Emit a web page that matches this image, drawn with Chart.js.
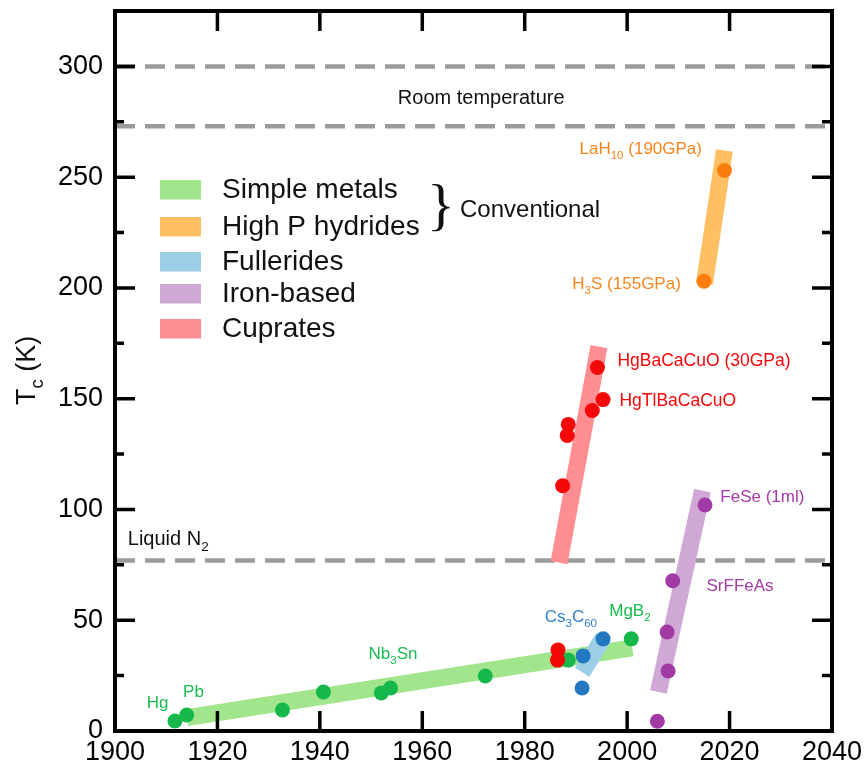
<!DOCTYPE html>
<html>
<head>
<meta charset="utf-8">
<script src="https://cdn.jsdelivr.net/npm/chart.js@4.4.0/dist/chart.umd.min.js"></script>
<style>
  html, body { margin: 0; padding: 0; background: #fff; }
  #wrap { width: 866px; height: 767px; position: relative; }
</style>
</head>
<body>
<div id="wrap"><canvas id="tcChart"></canvas></div>
<script>
// Superconductors: year of discovery vs critical temperature Tc
const xTicks = [1900, 1920, 1940, 1960, 1980, 2000, 2020, 2040];
const yTicks = [0, 50, 100, 150, 200, 250, 300];
const yMinorTicks = [25, 75, 125, 175, 225, 275];

const familyNames = ['Simple metals', 'High P hydrides', 'Fullerides', 'Iron-based', 'Cuprates'];

const metalYears = [1911.7, 1914, 1932.7, 1940.7, 1952, 1953.8, 1972.3, 1988.5, 2000.8];
const metalTc = [4.5, 7.2, 9.5, 17.6, 17.2, 19.4, 24.8, 32, 41.6];

const hydrideYears = [2015, 2019];
const hydrideTc = [203, 253];

const fullerideYears = [1991.2, 1991.4, 1995.3];
const fullerideTc = [19.4, 33.9, 41.6];

const ironYears = [2005.9, 2008, 2007.8, 2008.9, 2015.2];
const ironTc = [4.4, 27.1, 44.7, 67.8, 102];

const cuprateYears = [1986.5, 1986.4, 1987.4, 1988.3, 1988.5, 1993.2, 1995.3, 1994.2];
const cuprateTc = [36.6, 32, 110.7, 133.4, 138.4, 144.7, 149.6, 164.1];

// trend bands, start and end of each
const metalTrendYears = [1914, 2001];
const metalTrendTc = [6, 37.5];
const hydrideTrendYears = [2015.1, 2019];
const hydrideTrendTc = [202, 262];
const fullerideTrendYears = [1991.2, 1995.3];
const fullerideTrendTc = [26.5, 42];
const ironTrendYears = [2006.1, 2014.7];
const ironTrendTc = [17.6, 108.5];
const cuprateTrendYears = [1986.7, 1994.5];
const cuprateTrendTc = [76, 173.5];

// room temperature band and liquid nitrogen
const referenceLevels = [300, 273, 77];

const pointColors = ['#17b84b', '#fb7d0b', '#2379c0', '#a23aa6', '#f50808'];
const bandColors = ['#a1e68c', '#ffbf63', '#9ccfe5', '#d0a8d6', '#ff8e92'];
const labelColors = ['#19bb4f', '#fb8419', '#2f7fc8', '#a23aa6', '#f50808'];

const toPoints = (xs, ys) => xs.map((v, i) => ({ x: v, y: ys[i] }));

function bandDataset(xs, ys, color, order) {
    return {
        type: 'line',
        data: toPoints(xs, ys),
        borderColor: color,
        borderWidth: 17,
        borderCapStyle: 'butt',
        pointRadius: 0,
        fill: false,
        order: order
    };
}

function pointDataset(label, xs, ys, color, order) {
    return {
        type: 'scatter',
        label: label,
        data: toPoints(xs, ys),
        backgroundColor: color,
        borderWidth: 0,
        pointRadius: 7.5,
        pointHoverRadius: 7.5,
        order: order
    };
}

const levelDatasets = referenceLevels.map(level => ({
    type: 'line',
    data: [{ x: xTicks[0], y: level }, { x: xTicks[xTicks.length - 1], y: level }],
    borderColor: '#9b9b9b',
    borderWidth: 4.5,
    borderDash: [20, 10],
    pointRadius: 0,
    order: 20
}));

// text drawn on the plot, with subscripts
const annotationSpecs = [
    { parts: [['Room temperature']], x: 1971.5, y: 283, color: '#111', size: 20, align: 'center' },
    { parts: [['Liquid N'], ['2', true]], x: 1902.5, y: 84, color: '#111', size: 20 },
    { parts: [['Hg']], x: 1906.2, y: 10.4, color: labelColors[0], size: 17 },
    { parts: [['Pb']], x: 1913.3, y: 15.4, color: labelColors[0], size: 17 },
    { parts: [['Nb'], ['3', true], ['Sn']], x: 1949.5, y: 32.5, color: labelColors[0], size: 17 },
    { parts: [['MgB'], ['2', true]], x: 1996.5, y: 52, color: labelColors[0], size: 17 },
    { parts: [['Cs'], ['3', true], ['C'], ['60', true]], x: 1983.9, y: 49.3, color: labelColors[2], size: 17 },
    { parts: [['HgBaCaCuO (30GPa)']], x: 1998.1, y: 164.6, color: labelColors[4], size: 17.5 },
    { parts: [['HgTlBaCaCuO']], x: 1998.5, y: 146.9, color: labelColors[4], size: 17.5 },
    { parts: [['LaH'], ['10', true], [' (190GPa)']], x: 1990.7, y: 260.4, color: labelColors[1], size: 17 },
    { parts: [['H'], ['3', true], ['S (155GPa)']], x: 1989.3, y: 199.4, color: labelColors[1], size: 17 },
    { parts: [['FeSe (1ml)']], x: 2018.2, y: 103.5, color: labelColors[3], size: 17 },
    { parts: [['SrFFeAs']], x: 2015.5, y: 63.3, color: labelColors[3], size: 17 }
];

const FONT = '"Liberation Sans", Arial, Helvetica, sans-serif';

function drawRich(ctx, parts, x, y, size, color, align) {
    const subSize = size * 0.68;
    let total = 0;
    parts.forEach(p => {
        ctx.font = (p[1] ? subSize : size) + 'px ' + FONT;
        total += ctx.measureText(p[0]).width;
    });
    let cx = align === 'center' ? x - total / 2 : x;
    ctx.fillStyle = color;
    ctx.textAlign = 'left';
    ctx.textBaseline = 'alphabetic';
    parts.forEach(p => {
        const sub = !!p[1];
        ctx.font = (sub ? subSize : size) + 'px ' + FONT;
        ctx.fillText(p[0], cx, sub ? y + size * 0.3 : y);
        cx += ctx.measureText(p[0]).width;
    });
}

const frameAndLabels = {
    id: 'frameAndLabels',
    afterDraw(chart) {
        const { ctx, chartArea: a, scales: { x, y } } = chart;
        ctx.save();

        // frame and inward ticks
        ctx.strokeStyle = '#000';
        ctx.lineWidth = 4;
        ctx.strokeRect(a.left, a.top, a.right - a.left, a.bottom - a.top);
        ctx.lineWidth = 3.5;
        ctx.beginPath();
        xTicks.forEach(v => {
            if (v <= x.min || v >= x.max) return;
            const px = x.getPixelForValue(v);
            ctx.moveTo(px, a.bottom); ctx.lineTo(px, a.bottom - 20);
            ctx.moveTo(px, a.top); ctx.lineTo(px, a.top + 20);
        });
        yTicks.forEach(v => {
            if (v <= y.min) return;
            const py = y.getPixelForValue(v);
            ctx.moveTo(a.left, py); ctx.lineTo(a.left + 20, py);
            ctx.moveTo(a.right, py); ctx.lineTo(a.right - 20, py);
        });
        yMinorTicks.forEach(v => {
            const py = y.getPixelForValue(v);
            ctx.moveTo(a.left, py); ctx.lineTo(a.left + 9, py);
            ctx.moveTo(a.right, py); ctx.lineTo(a.right - 10, py);
        });
        ctx.stroke();

        // annotations
        annotationSpecs.forEach(s => {
            drawRich(ctx, s.parts, x.getPixelForValue(s.x), y.getPixelForValue(s.y), s.size, s.color, s.align);
        });

        // legend
        const lx = a.left + 45, ly = a.top + 169;
        const rowGap = [0, 37, 72, 104, 139];
        familyNames.forEach((name, i) => {
            ctx.fillStyle = bandColors[i];
            ctx.fillRect(lx, ly + rowGap[i], 41, 19.5);
            ctx.fillStyle = '#111';
            ctx.font = '28px ' + FONT;
            ctx.textAlign = 'left';
            ctx.textBaseline = 'alphabetic';
            ctx.fillText(name, lx + 62, ly + rowGap[i] + 18);
        });
        ctx.font = '58px "Liberation Serif", "DejaVu Serif", serif';
        ctx.textAlign = 'center';
        ctx.textBaseline = 'middle';
        ctx.fillText('}', a.left + 326, a.top + 198);
        ctx.font = '24px ' + FONT;
        ctx.textAlign = 'left';
        ctx.textBaseline = 'alphabetic';
        ctx.fillText('Conventional', a.left + 345, a.top + 206);

        // y axis title
        ctx.translate(35, 405);
        ctx.rotate(-Math.PI / 2);
        drawRich(ctx, [['T'], ['c', true], [' (K)']], 0, 0, 27, '#111');

        ctx.restore();
    }
};

new Chart(document.getElementById('tcChart'), {
    data: {
        datasets: [
            ...levelDatasets,
            bandDataset(metalTrendYears, metalTrendTc, bandColors[0], 14),
            bandDataset(hydrideTrendYears, hydrideTrendTc, bandColors[1], 13),
            bandDataset(fullerideTrendYears, fullerideTrendTc, bandColors[2], 12),
            bandDataset(ironTrendYears, ironTrendTc, bandColors[3], 11),
            bandDataset(cuprateTrendYears, cuprateTrendTc, bandColors[4], 10),
            pointDataset(familyNames[0], metalYears, metalTc, pointColors[0], 5),
            pointDataset(familyNames[1], hydrideYears, hydrideTc, pointColors[1], 4),
            pointDataset(familyNames[2], fullerideYears, fullerideTc, pointColors[2], 3),
            pointDataset(familyNames[3], ironYears, ironTc, pointColors[3], 2),
            pointDataset(familyNames[4], cuprateYears, cuprateTc, pointColors[4], 1)
        ]
    },
    options: {
        responsive: true,
        maintainAspectRatio: false,
        animation: false,
        layout: { padding: { left: 0, top: 11, right: 34, bottom: 0 } },
        plugins: {
            legend: { display: false },
            tooltip: { enabled: false }
        },
        scales: {
            x: {
                type: 'linear',
                min: 1900,
                max: 2040,
                grid: { display: false, drawTicks: false },
                border: { display: false },
                afterBuildTicks: scale => { scale.ticks = xTicks.map(v => ({ value: v })); },
                afterFit: scale => {
                    scale.height = 36;
                    scale.paddingLeft = 0;
                    scale.paddingRight = 0;
                },
                ticks: {
                    padding: 5,
                    color: '#000',
                    font: { family: FONT, size: 27 },
                    callback: v => String(v)
                }
            },
            y: {
                type: 'linear',
                min: 0,
                max: 325,
                grid: { display: false, drawTicks: false },
                border: { display: false },
                afterBuildTicks: scale => { scale.ticks = yTicks.map(v => ({ value: v })); },
                afterFit: scale => {
                    scale.width = 115;
                    scale.paddingTop = 0;
                    scale.paddingBottom = 0;
                },
                ticks: {
                    padding: 12,
                    color: '#000',
                    font: { family: FONT, size: 27 },
                    callback: v => String(v)
                }
            }
        }
    },
    plugins: [frameAndLabels]
});
</script>
</body>
</html>
